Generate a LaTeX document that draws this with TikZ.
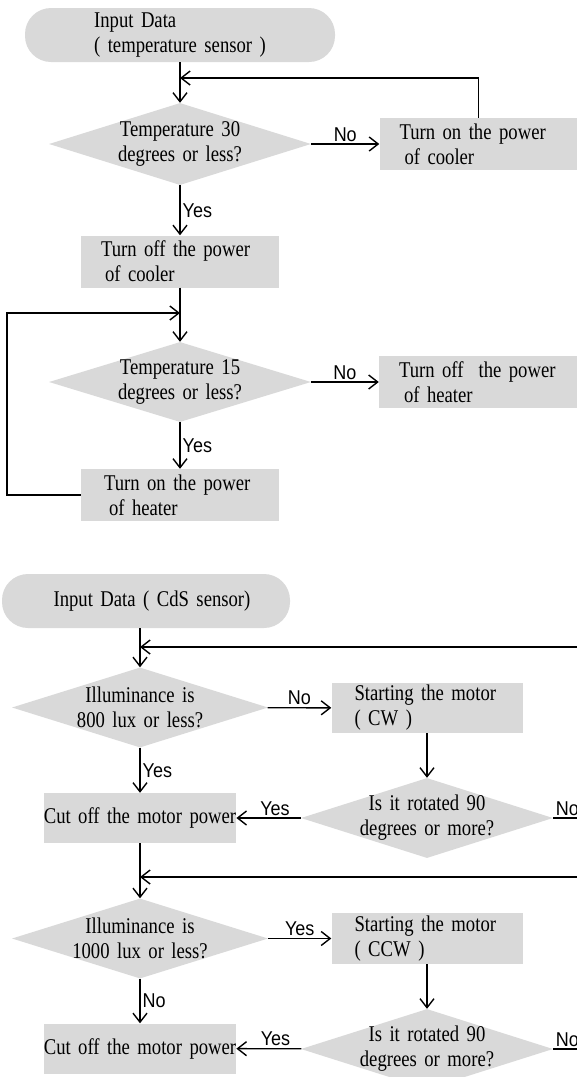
\documentclass[tikz,border=0pt]{standalone}
\usepackage{fontspec}
\setmainfont{Liberation Serif}[FakeStretch=0.83,WordSpace=1.6]
\newfontfamily\yesnofont{Liberation Sans}[FakeStretch=0.9]
\usepackage{tikz}
\usetikzlibrary{shapes.geometric}
\usetikzlibrary{arrows.meta}
\definecolor{boxgray}{RGB}{217,217,217}

\begin{document}
\begin{tikzpicture}[x=1pt,y=-1pt,font=\fontsize{22.5}{25}\selectfont,
	flow/.style={line width=1.4pt,-{Straight Barb[length=9pt,width=14pt]}},
	line/.style={line width=1.4pt},
	startbox/.style={fill=boxgray,rounded corners=26pt,minimum height=54pt,inner sep=0pt},
	procbox/.style={fill=boxgray,minimum height=52pt,align=left,inner xsep=20pt,inner ysep=0pt,text width=158pt},
	cutbox/.style={fill=boxgray,minimum width=190pt,minimum height=50pt,inner sep=0pt},
	decision/.style={diamond,fill=boxgray,inner sep=0pt,minimum height=80pt},
	qtext/.style={align=center,inner sep=0pt},
	yesno/.style={font=\yesnofont\fontsize{20}{22}\selectfont,inner sep=2pt}]
	\useasboundingbox (0,0) rectangle (577,1077);
	
	%%% Temperature
	\node[startbox,minimum width=310pt,align=left] (in1) at (180,35) {Input Data\\( temperature sensor )};
	\node[decision,minimum width=262pt,minimum height=82pt,label={[qtext]center:{Temperature 30\\degrees or less?}}] (q1) at (180,144) {};
	\node[procbox] (on1) at (478.5,144) {Turn on the power\\\hspace*{5pt}of cooler};
	\node[procbox] (off1) at (180,261.5) {Turn off the power\\\hspace*{4pt}of cooler};
	\node[decision,minimum width=262pt,label={[qtext]center:{Temperature 15\\degrees or less?}}] (q2) at (180,382) {};
	\node[procbox] (off2) at (478,382) {\mbox{Turn off\ \ the power}\\\hspace*{5pt}of heater};
	\node[procbox,inner xsep=23pt,text width=152pt] (on2) at (180,495) {Turn on the power\\\hspace*{5pt}of heater};
	
	\coordinate (j1) at (180,78);
	\coordinate (j2) at (180,313);
	\coordinate (k2) at (7,313);
	
	%% Frecce Temperature
	\draw[flow] (in1) -- (q1);
	\draw[flow] (q1) -- node[yesno,above]{No} (on1);
	\draw[flow] (on1.north) |- (j1);
	\draw[flow] (q1) -- node[yesno,right]{Yes} (off1);
	\draw[flow] (off1) -- (q2);
	\draw[flow] (q2) -- node[yesno,above]{No} (off2);
	\draw[flow] (q2) -- node[yesno,right]{Yes} (on2);
	\draw[flow] (on2.west) -| (k2) -- (j2);
	
	%%% CdS
	\node[startbox,minimum width=288pt] (in2) at (146,601) {\hspace*{12pt}Input Data ( CdS sensor)};
	\node[decision,minimum width=256pt,label={[qtext]center:{Illuminance is\\800 lux or less?}}] (q3) at (140,707.5) {};
	\node[procbox,inner xsep=23pt,text width=145pt,minimum height=50pt] (cw) at (427,708) {Starting the motor\\( CW )};
	\node[decision,minimum width=252pt,label={[qtext]center:{Is it rotated 90\\degrees or more?}}] (q4) at (427,818) {};
	\node[cutbox] (cut1) at (140,818) {Cut off the motor power};
	\node[decision,minimum width=256pt,label={[qtext]center:{Illuminance is\\1000 lux or less?}}] (q5) at (140,938.5) {};
	\node[procbox,inner xsep=23pt,text width=145pt,minimum height=51pt] (ccw) at (427,938.5) {Starting the motor\\( CCW )};
	\node[decision,minimum width=252pt,label={[qtext]center:{Is it rotated 90\\degrees or more?}}] (q6) at (427,1049) {};
	\node[cutbox] (cut2) at (140,1048.5) {Cut off the motor power};
	
	\coordinate (j3) at (140,647);
	\coordinate (r3) at (600,647);
	\coordinate (r4) at (600,818);
	\coordinate (j5) at (140,877);
	\coordinate (r5) at (600,877);
	\coordinate (r6) at (600,1049);
	
	%% Frecce CdS
	\draw[flow] (in2.south -| q3.north) -- (q3.north);
	\draw[flow] (r3) -- (j3);
	\draw[flow] (q3) -- node[yesno,above]{No} (cw);
	\draw[flow] (q3) -- node[yesno,right]{Yes} (cut1);
	\draw[flow] (cw) -- (q4);
	\draw[flow] (q4) -- node[yesno,above,pos=0.4]{Yes} (cut1);
	\draw[line] (q4) -- node[yesno,anchor=south west,pos=0]{No} (r4);
	\draw[flow] (cut1) -- (q5);
	\draw[flow] (r5) -- (j5);
	\draw[flow] (q5) -- node[yesno,above]{Yes} (ccw);
	\draw[flow] (q5) -- node[yesno,right]{No} (cut2);
	\draw[flow] (ccw) -- (q6);
	\draw[flow] (q6) -- node[yesno,above,pos=0.4]{Yes} (cut2);
	\draw[line] (q6) -- node[yesno,anchor=south west,pos=0]{No} (r6);
\end{tikzpicture}
\end{document}
